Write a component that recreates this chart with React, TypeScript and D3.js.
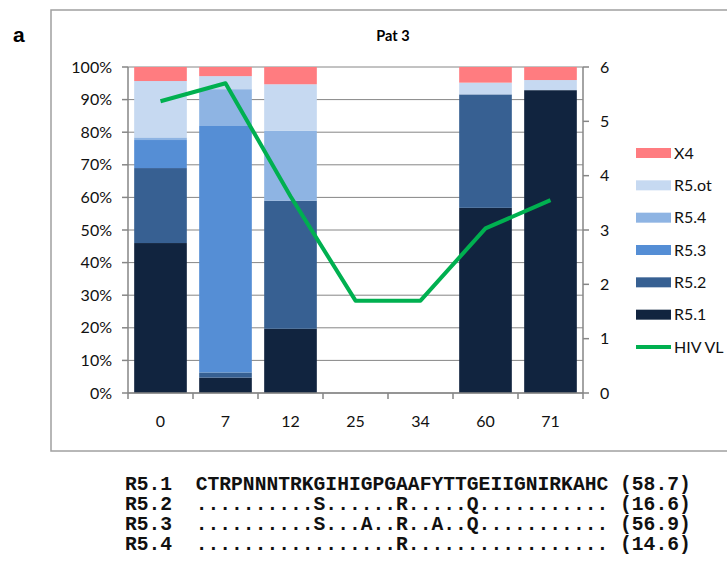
import React from 'react';
import * as d3 from 'd3';

const categories = ['0', '7', '12', '25', '34', '60', '71'];
const seriesKeys = ['R5.1', 'R5.2', 'R5.3', 'R5.4', 'R5.ot', 'X4'];
const r51 = [46, 4.7, 19.7, 0, 0, 56.8, 92.9];
const r52 = [23, 1.6, 39.3, 0, 0, 34.8, 0];
const r53 = [8.6, 75.6, 0, 0, 0, 0, 0];
const r54 = [0.8, 11.3, 21.4, 0, 0, 0, 0];
const r5ot = [17.3, 4.0, 14.3, 0, 0, 3.6, 3.1];
const x4 = [4.3, 2.8, 5.3, 0, 0, 4.8, 4.0];
const hivVL = [5.37, 5.7, 3.62, 1.7, 1.7, 3.03, 3.55];
const leftTicks = [0, 10, 20, 30, 40, 50, 60, 70, 80, 90, 100];
const rightTicks = [0, 1, 2, 3, 4, 5, 6];
const colors = ['#11243f', '#376092', '#558ed5', '#8eb4e3', '#c6d9f1', '#ff7c80'];
const seqNames = ['R5.1', 'R5.2', 'R5.3', 'R5.4'];
const seqs = [
  'CTRPNNNTRKGIHIGPGAAFYTTGEIIGNIRKAHC',
  '..........S......R.....Q...........',
  '..........S...A..R..A..Q...........',
  '.................R.................',
];
const seqScores = ['(58.7)', '(16.6)', '(56.9)', '(14.6)'];

export default function App() {
  const W = 727, H = 561;
  const left = 128, right = 583, top = 67, bottom = 393;
  const x = d3.scaleBand<string>().domain(categories).range([left, right]).paddingInner(0.19).paddingOuter(0.095);
  const xb = d3.scaleBand<string>().domain(categories).range([left, right]);
  const y = d3.scaleLinear().domain([0, 100]).range([bottom, top]);
  const y2 = d3.scaleLinear().domain([0, 6]).range([bottom, top]);
  const seriesVals = [r51, r52, r53, r54, r5ot, x4];
  const rows = categories.map((c, i) => {
    const o: any = { cat: c };
    seriesKeys.forEach((k, j) => (o[k] = seriesVals[j][i]));
    return o;
  });
  const stacked = d3.stack<any>().keys(seriesKeys)(rows);
  const line = d3.line<number>().x((_, i) => (xb(categories[i]) as number) + xb.bandwidth() / 2).y((d) => y2(d));
  const font = 'Lato, "Open Sans", sans-serif';
  const gray = '#868686';
  const legendItems = ['X4', 'R5.ot', 'R5.4', 'R5.3', 'R5.2', 'R5.1'];
  const legendY = d3.scaleLinear().domain([0, 6]).range([153, 347]);

  return (
    <svg width={W} height={H} style={{ position: 'absolute', left: 0, top: 0, background: '#fff' }}>
      <rect x={51} y={10} width={700} height={441} fill="#fff" stroke="#a0a0a0" strokeWidth={1.5} />
      <text x={13} y={42} fontFamily='"Liberation Sans Narrow", Arial, sans-serif' fontWeight="bold" fontSize={21}>a</text>
      <text x={393} y={41} textAnchor="middle" fontFamily={font} fontWeight="bold" fontSize={14.5}>Pat 3</text>
      {leftTicks.map((t) => (
        <line key={'g' + t} x1={left} x2={right} y1={y(t)} y2={y(t)} stroke={gray} strokeWidth={1} />
      ))}
      {stacked.map((s, si) => (
        <g key={s.key} fill={colors[si]}>
          {s.map((d, i) =>
            d[1] - d[0] > 0 ? (
              <rect key={i} x={x(categories[i])} width={x.bandwidth()} y={y(d[1])} height={y(d[0]) - y(d[1])} />
            ) : null
          )}
        </g>
      ))}
      <line x1={left} x2={left} y1={top} y2={bottom} stroke={gray} strokeWidth={1.5} />
      <line x1={right} x2={right} y1={top} y2={bottom} stroke={gray} strokeWidth={1.5} />
      <line x1={left} x2={right} y1={bottom} y2={bottom} stroke={gray} strokeWidth={1.5} />
      {leftTicks.map((t) => (
        <g key={'l' + t}>
          <line x1={left - 6} x2={left} y1={y(t)} y2={y(t)} stroke={gray} strokeWidth={1.5} />
          <text x={112} y={y(t)} dy="0.35em" textAnchor="end" fontFamily={font} fontSize={16} fill="#111">{t + '%'}</text>
        </g>
      ))}
      {rightTicks.map((t) => (
        <g key={'r' + t}>
          <line x1={right} x2={right + 6} y1={y2(t)} y2={y2(t)} stroke={gray} strokeWidth={1.5} />
          <text x={600} y={y2(t)} dy="0.35em" fontFamily={font} fontSize={16} fill="#111">{t}</text>
        </g>
      ))}
      {categories.concat(['end']).map((c, i) => {
        const xx = left + i * xb.step();
        return <line key={'bt' + i} x1={xx} x2={xx} y1={bottom} y2={bottom + 6} stroke={gray} strokeWidth={1.5} />;
      })}
      {categories.map((c) => (
        <text key={'xl' + c} x={(xb(c) as number) + xb.bandwidth() / 2} y={427} textAnchor="middle" fontFamily={font} fontSize={16} fill="#111">{c}</text>
      ))}
      <path d={line(hivVL) || ''} fill="none" stroke="#00b050" strokeWidth={4} strokeLinejoin="round" />
      {legendItems.map((k, i) => (
        <g key={'lg' + k}>
          <rect x={636} y={legendY(i) - 5} width={35} height={10} fill={colors[seriesKeys.indexOf(k)]} />
          <text x={674} y={legendY(i)} dy="0.35em" fontFamily={font} fontSize={16} fill="#111">{k}</text>
        </g>
      ))}
      <line x1={636} x2={671} y1={legendY(6)} y2={legendY(6)} stroke="#00b050" strokeWidth={4} />
      <text x={674} y={legendY(6)} dy="0.35em" fontFamily={font} fontSize={16} fill="#111">HIV VL</text>
      {seqNames.map((n, i) => (
        <text key={'s' + n} x={125} y={490 + i * 20} fontFamily='"Courier New", "Liberation Mono", "DejaVu Sans Mono", monospace' fontWeight="bold" fontSize={19.65} fill="#111" style={{ whiteSpace: 'pre' }}>
          {`${n}  ${seqs[i]} ${seqScores[i]}`}
        </text>
      ))}
    </svg>
  );
}
